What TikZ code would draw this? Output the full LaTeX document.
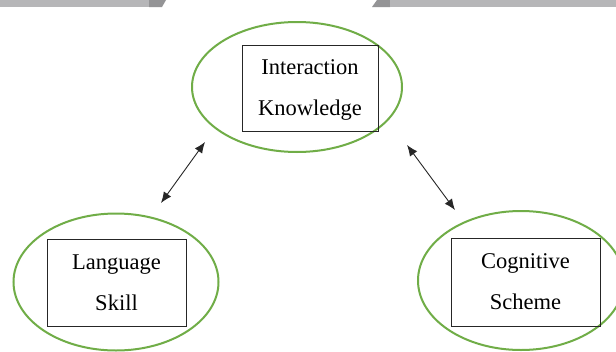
\documentclass[tikz,border=0pt]{standalone}
\usepackage{fontspec}
\setmainfont{Liberation Serif}
\usetikzlibrary{shapes.geometric,arrows.meta}
\definecolor{ovalgreen}{RGB}{112,173,71}
\definecolor{barlight}{RGB}{182,182,184}
\definecolor{bardark}{RGB}{148,148,150}
\tikzset{
  oval/.style={draw=ovalgreen,line width=2pt,ellipse,inner sep=0pt},
  boxfont/.style={align=center,font=\fontsize{22.5}{41}\selectfont},
  labelbox/.style={draw=black!85,line width=0.9pt,rectangle,inner sep=0pt,boxfont},
  dblarrow/.style={{Latex[length=11pt,width=9pt]}-{Latex[length=11pt,width=9pt]},line width=0.9pt,black!85}
}
\begin{document}
\begin{tikzpicture}[x=1pt,y=-1pt]
\useasboundingbox (0,0) rectangle (616,351);
\fill[white] (0,0) rectangle (616,351);
% top bars
\fill[barlight] (0,0) rectangle (149,7);
\fill[bardark] (149,0) -- (166,0) -- (162,7) -- (149,7) -- cycle;
\fill[bardark] (377,0) -- (390,0) -- (390,7) -- (372,7) -- cycle;
\fill[barlight] (390,0) rectangle (616,7);
% ovals
\node[oval,minimum width=210pt,minimum height=130pt] (o1) at (297,87) {};
\node[oval,minimum width=205pt,minimum height=137pt] (o2) at (116,282) {};
\node[oval,minimum width=206pt,minimum height=139pt] (o3) at (521,280.5) {};
% boxes
\node[labelbox,minimum width=136pt,minimum height=86pt] (b1) at (310,88) {};
\node[boxfont] (t1) at (310,90) {Interaction\\Knowledge};
\node[labelbox,minimum width=139pt,minimum height=87pt] (b2) at (116.5,282.5) {Language\\Skill};
\node[labelbox,minimum width=149pt,minimum height=88pt] (b3) at (525.5,282) {Cognitive\\Scheme};
% arrows
\coordinate (a1) at (205,142);
\coordinate (a2) at (161,203);
\coordinate (a3) at (407,145);
\coordinate (a4) at (455,210);
\draw[dblarrow] (a2) -- (a1);
\draw[dblarrow] (a3) -- (a4);
\end{tikzpicture}
\end{document}
